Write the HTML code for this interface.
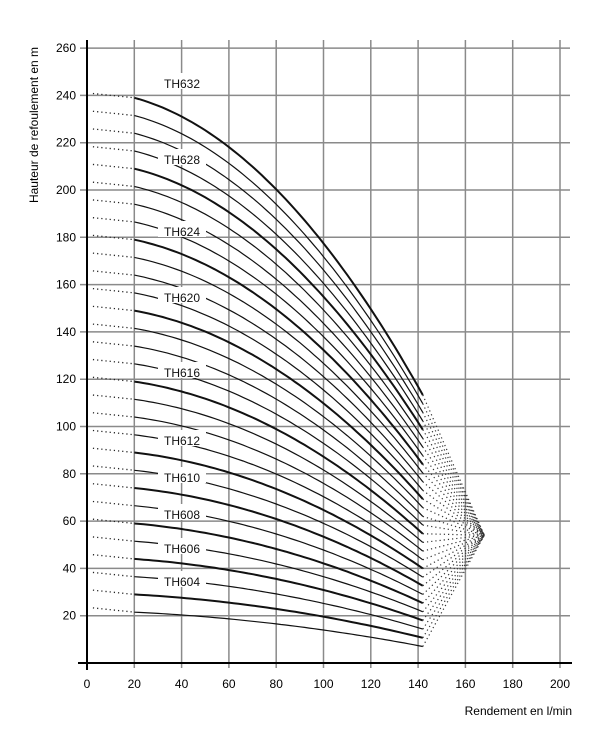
<!DOCTYPE html>
<html><head><meta charset="utf-8"><style>
html,body{margin:0;padding:0;background:#fff;}
svg{display:block;font-family:"Liberation Sans",sans-serif;}
</style></head><body>
<svg id="s" width="600" height="750" xmlns="http://www.w3.org/2000/svg"></svg>
<script>
const s=document.getElementById('s');
const X=q=>87+q*2.365, Y=h=>663-h*2.365;
let out='';
for(let q=20;q<=200;q+=20) out+=`<line x1="${X(q)}" y1="40" x2="${X(q)}" y2="668" stroke="#8a8a8a" stroke-width="1.5"/>`;
for(let h=20;h<=260;h+=20) out+=`<line x1="80" y1="${Y(h)}" x2="570" y2="${Y(h)}" stroke="#8a8a8a" stroke-width="1.5"/>`;
out+=`<line x1="87" y1="40" x2="87" y2="670" stroke="#000" stroke-width="2"/>`;
out+=`<line x1="78" y1="663" x2="572" y2="663" stroke="#000" stroke-width="2"/>`;
for(let h=20;h<=260;h+=20) out+=`<text x="76" y="${Y(h)+4}" font-size="12" text-anchor="end">${h}</text>`;
for(let q=0;q<=200;q+=20) out+=`<text x="${X(q)}" y="688" font-size="12" text-anchor="middle">${q}</text>`;
out+=`<text transform="translate(38,125) rotate(-90)" font-size="12" text-anchor="middle">Hauteur de refoulement en m</text>`;
out+=`<text x="572" y="715" font-size="12" text-anchor="end">Rendement en l/min</text>`;
const H=(n,q)=>n*(7.5-1.94e-4*(q*q-400))-1-3*(q-20)/122;
const bold=[4,6,8,10,12,16,20,24,28,32];
for(let n=3;n<=32;n++){
  let d='';
  for(let q=20;q<=142;q+=2) d+=(q==20?'M':'L')+X(q).toFixed(1)+','+Y(H(n,q)).toFixed(1);
  const b=bold.includes(n);
  out+=`<path d="${d}" fill="none" stroke="#111" stroke-width="${b?2:1.2}"/>`;
  const h0=H(n,20);
  out+=`<line x1="${X(2.5)}" y1="${Y(h0+1.8)}" x2="${X(20)}" y2="${Y(h0)}" stroke="#222" stroke-width="1.3" stroke-dasharray="1.2,3"/>`;
  const he=H(n,142);
  out+=`<line x1="${X(142)}" y1="${Y(he)}" x2="${X(168)}" y2="${Y(54)}" stroke="#333" stroke-width="1.2" stroke-dasharray="1.2,3"/>`;
}
const labs=[[32,84],[28,160],[24,232],[20,298],[16,373],[12,441],[10,478],[8,515],[6,549],[4,582]];
for(const [n,y] of labs){
  out+=`<rect x="158" y="${y-11}" width="48" height="16" fill="#fff"/>`;
  out+=`<text x="182" y="${y+4}" font-size="12" text-anchor="middle" fill="#111">TH6${String(n).padStart(2,'0')}</text>`;
}
s.innerHTML=out;
</script>
</body></html>
